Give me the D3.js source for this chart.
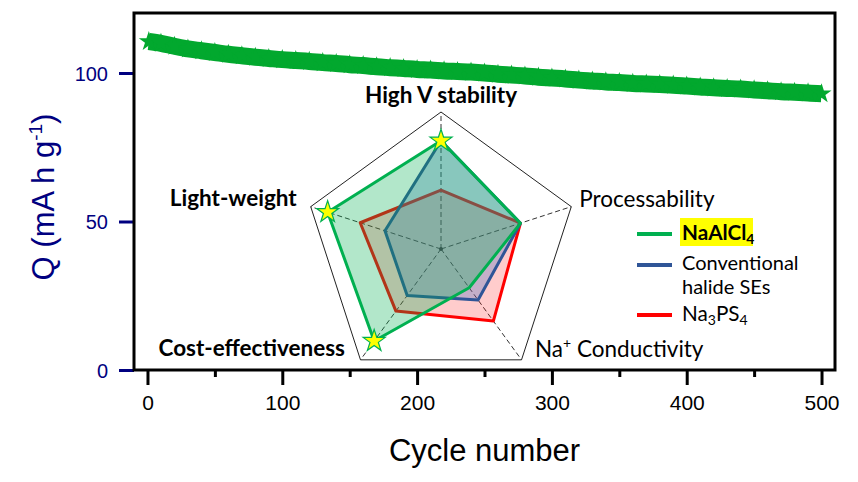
<!DOCTYPE html>
<html>
<head>
<meta charset="utf-8">
<script src="https://cdn.jsdelivr.net/npm/d3@7"></script>
<style>
  body { margin: 0; background: #fff; }
  svg { display: block; }
  .axis text { font-family: "Liberation Sans", Arial, sans-serif; }
</style>
</head>
<body>
<div id="chart"></div>
<script>
// capacity vs cycle, every 10 cycles
const cycles = [1, 10, 20, 30, 40, 50, 60, 70, 80, 90, 100,
  110, 120, 130, 140, 150, 160, 170, 180, 190, 200,
  210, 220, 230, 240, 250, 260, 270, 280, 290, 300,
  310, 320, 330, 340, 350, 360, 370, 380, 390, 400,
  410, 420, 430, 440, 450, 460, 470, 480, 490, 500]
const capacity = [110.6, 110.0, 109.0, 108.1, 107.5, 106.9, 106.3, 105.8, 105.3, 104.9, 104.5,
  104.2, 103.9, 103.5, 103.2, 102.8, 102.5, 102.1, 101.8, 101.5, 101.2,
  101.0, 100.7, 100.5, 100.3, 100.0, 99.6, 99.3, 99.0, 98.6, 98.3,
  98.0, 97.6, 97.3, 97.0, 96.8, 96.5, 96.3, 96.1, 95.9, 95.6,
  95.3, 95.0, 94.8, 94.6, 94.3, 94.0, 93.7, 93.5, 93.3, 93.0]

const xTicks = [0, 100, 200, 300, 400, 500]
const xMinorTicks = [50, 150, 250, 350, 450]
const yTicks = [0, 50, 100]

// radar inset (fraction of full scale), clockwise from the top
const radarAxes = ["High V stability", "Processability", "Na+ Conductivity", "Cost-effectiveness", "Light-weight"]
const naAlCl4 = [0.79, 0.61, 0.35, 0.83, 0.87]
const halideSEs = [0.79, 0.61, 0.46, 0.42, 0.43]
const na3PS4 = [0.43, 0.61, 0.65, 0.56, 0.62]
const starredAxes = [0, 3, 4]

class CycleChart {
  constructor(_parentElement) {
    this.parentElement = _parentElement
    this.initVis()
  }

  initVis() {
    const vis = this

    vis.W = 858
    vis.H = 482
    vis.MARGIN = { LEFT: 134, RIGHT: 23, TOP: 13, BOTTOM: 112 }
    vis.WIDTH = vis.W - vis.MARGIN.LEFT - vis.MARGIN.RIGHT
    vis.HEIGHT = vis.H - vis.MARGIN.TOP - vis.MARGIN.BOTTOM

    vis.svg = d3.select(vis.parentElement)
      .append("svg")
      .attr("width", vis.W)
      .attr("height", vis.H)

    vis.g = vis.svg.append("g")
      .attr("transform", `translate(${vis.MARGIN.LEFT}, ${vis.MARGIN.TOP})`)

    vis.x = d3.scaleLinear().domain([-10, 510]).range([0, vis.WIDTH])
    vis.y = d3.scaleLinear().domain([0, 120.2]).range([vis.HEIGHT, 0])

    vis.drawAxes()
    vis.drawSeries()
    vis.drawRadar()
    vis.drawLegend()
  }

  drawAxes() {
    const vis = this
    const navy = "#000080"

    // minor x ticks
    vis.g.append("g")
      .attr("class", "axis")
      .attr("transform", `translate(0, ${vis.HEIGHT})`)
      .call(d3.axisBottom(vis.x).tickValues(xMinorTicks).tickSize(7).tickFormat(""))
      .call(g => g.select(".domain").remove())
      .selectAll("line").attr("stroke", "#000").attr("stroke-width", 3)

    const xAxis = vis.g.append("g")
      .attr("class", "axis")
      .attr("transform", `translate(0, ${vis.HEIGHT})`)
      .call(d3.axisBottom(vis.x).tickValues(xTicks).tickSize(15).tickPadding(10))
    xAxis.select(".domain").remove()
    xAxis.selectAll("line").attr("stroke", "#000").attr("stroke-width", 3)
    xAxis.selectAll("text").attr("font-size", "21px").attr("fill", "#000")

    const yAxis = vis.g.append("g")
      .attr("class", "axis")
      .call(d3.axisLeft(vis.y).tickValues(yTicks).tickSize(15).tickPadding(11))
    yAxis.select(".domain").remove()
    yAxis.selectAll("line").attr("stroke", navy).attr("stroke-width", 3)
    yAxis.selectAll("text").attr("font-size", "20px").attr("fill", navy).attr("dy", "0.36em")

    // frame
    vis.g.append("rect")
      .attr("width", vis.WIDTH)
      .attr("height", vis.HEIGHT)
      .attr("fill", "none")
      .attr("stroke", "#000")
      .attr("stroke-width", 3)

    vis.svg.append("text")
      .attr("x", vis.MARGIN.LEFT + vis.WIDTH / 2)
      .attr("y", 461)
      .attr("text-anchor", "middle")
      .attr("font-family", "'Liberation Sans', Arial, sans-serif")
      .attr("font-size", "31px")
      .text("Cycle number")

    const yLabel = vis.svg.append("text")
      .attr("transform", "translate(54, 197) rotate(-90)")
      .attr("text-anchor", "middle")
      .attr("font-family", "'Liberation Sans', Arial, sans-serif")
      .attr("font-size", "31px")
      .attr("fill", navy)
    yLabel.append("tspan").text("Q (mA h g")
    yLabel.append("tspan").attr("font-size", "19px").attr("dy", "-12").text("-1")
    yLabel.append("tspan").attr("dy", "12").text(")")
  }

  drawSeries() {
    const vis = this
    const green = "#02a82e"
    const pts = cycles.map((c, i) => [vis.x(c), vis.y(capacity[i])])

    vis.g.append("path")
      .datum(pts)
      .attr("d", d3.line().curve(d3.curveMonotoneX))
      .attr("fill", "none")
      .attr("stroke", green)
      .attr("stroke-width", 17)

    vis.g.selectAll(".cap-star")
      .data(pts)
      .join("path")
      .attr("class", "cap-star")
      .attr("transform", d => `translate(${d[0]}, ${d[1]})`)
      .attr("d", d3.symbol(d3.symbolStar, 125))
      .attr("fill", green)
  }

  drawRadar() {
    const vis = this
    const cx = 441, cy = 249, R = 137
    const r = d3.scaleLinear().domain([0, 1]).range([0, R])
    const angle = i => i * 2 * Math.PI / radarAxes.length
    const pt = (v, i) => [cx + r(v) * Math.sin(angle(i)), cy - r(v) * Math.cos(angle(i))]
    const rg = vis.svg.append("g")

    rg.append("polygon")
      .attr("points", radarAxes.map((a, i) => pt(1, i).join(",")).join(" "))
      .attr("fill", "none")
      .attr("stroke", "#222")
      .attr("stroke-width", 1)

    rg.selectAll(".spoke")
      .data(radarAxes)
      .join("line")
      .attr("class", "spoke")
      .attr("x1", cx).attr("y1", cy)
      .attr("x2", (d, i) => pt(1, i)[0])
      .attr("y2", (d, i) => pt(1, i)[1])
      .attr("stroke", "#333")
      .attr("stroke-width", 1)
      .attr("stroke-dasharray", "5,3")

    rg.append("circle").attr("cx", cx).attr("cy", cy).attr("r", 2).attr("fill", "#222")

    const series = [
      { values: na3PS4, stroke: "#ff0000", fill: "rgba(255,0,0,0.2)" },
      { values: halideSEs, stroke: "#2f5597", fill: "rgba(68,114,196,0.32)" },
      { values: naAlCl4, stroke: "#00b050", fill: "rgba(0,176,80,0.3)" }
    ]
    series.forEach(s => {
      rg.append("polygon")
        .attr("points", s.values.map((v, i) => pt(v, i).join(",")).join(" "))
        .attr("fill", s.fill)
        .attr("stroke", s.stroke)
        .attr("stroke-width", 3)
        .attr("stroke-linejoin", "round")
    })

    rg.selectAll(".radar-star")
      .data(starredAxes)
      .join("path")
      .attr("class", "radar-star")
      .attr("transform", i => `translate(${pt(naAlCl4[i], i).join(",")})`)
      .attr("d", d3.symbol(d3.symbolStar, 150))
      .attr("fill", "#ffff00")
      .attr("stroke", "#00b050")
      .attr("stroke-width", 1.2)

    // axis labels: [anchor, dx, dy, bold] relative to the outer vertex
    const labelPos = [
      ["middle", 0, -9, true],
      ["start", 8, 0, false],
      ["start", 13.5, -3, false],
      ["end", -15.5, -4, true],
      ["end", -14, -1, true]
    ]
    radarAxes.forEach((name, i) => {
      const [vx, vy] = pt(1, i)
      const [anchor, dx, dy, bold] = labelPos[i]
      const t = rg.append("text")
        .attr("x", vx + dx)
        .attr("y", vy + dy)
        .attr("text-anchor", anchor)
        .attr("font-family", "Lato, sans-serif")
        .attr("font-size", "22.5px")
        .attr("font-weight", bold ? "bold" : "normal")
        .attr("fill", "#000")
      if (name.startsWith("Na+")) {
        t.append("tspan").text("Na")
        t.append("tspan").attr("font-size", "14px").attr("dy", "-9").text("+")
        t.append("tspan").attr("dy", "9").text(" Conductivity")
      } else {
        t.text(name)
      }
    })
  }

  drawLegend() {
    const vis = this
    const lg = vis.svg.append("g").attr("font-family", "Lato, sans-serif").attr("font-size", "20px")
    const items = [
      { y: 234, stroke: "#00b050" },
      { y: 265, stroke: "#2f5597" },
      { y: 315, stroke: "#ff0000" }
    ]
    lg.selectAll("line")
      .data(items)
      .join("line")
      .attr("x1", 637).attr("x2", 672)
      .attr("y1", d => d.y).attr("y2", d => d.y)
      .attr("stroke", d => d.stroke)
      .attr("stroke-width", 4)

    lg.append("rect")
      .attr("x", 680).attr("y", 218)
      .attr("width", 73).attr("height", 28)
      .attr("fill", "#ffff00")

    const t1 = lg.append("text").attr("x", 682).attr("y", 240).attr("font-weight", "bold").attr("font-size", "20.7px")
    t1.append("tspan").text("NaAlCl")
    t1.append("tspan").attr("font-size", "14px").attr("dy", "4").text("4")

    lg.append("text").attr("x", 682).attr("y", 269.5).text("Conventional")
    lg.append("text").attr("x", 682).attr("y", 293.5).text("halide SEs")

    const t3 = lg.append("text").attr("x", 682).attr("y", 321).attr("font-size", "20.7px")
    t3.append("tspan").text("Na")
    t3.append("tspan").attr("font-size", "14px").attr("dy", "4").text("3")
    t3.append("tspan").attr("dy", "-4").text("PS")
    t3.append("tspan").attr("font-size", "14px").attr("dy", "4").text("4")
  }
}

new CycleChart("#chart")
</script>
</body>
</html>
